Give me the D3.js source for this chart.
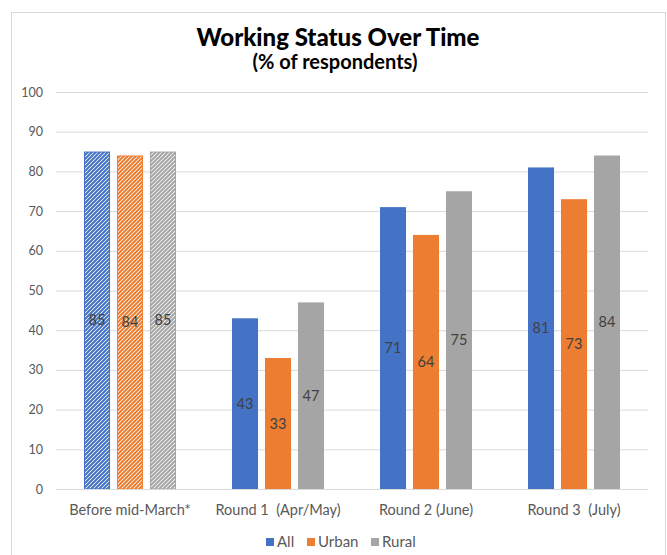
<!DOCTYPE html>
<html><head><meta charset="utf-8">
<script src="https://cdn.jsdelivr.net/npm/d3@7"></script>
<style>body{margin:0;background:#fff;font-family:Lato,"Open Sans",sans-serif;}</style>
</head><body>
<svg id="chart" width="667" height="555"></svg>
<script>
const categories = ["Before mid-March*", "Round 1  (Apr/May)", "Round 2 (June)", "Round 3  (July)"];
const seriesNames = ["All", "Urban", "Rural"];
const allValues = [85, 43, 71, 81];
const urbanValues = [84, 33, 64, 73];
const ruralValues = [85, 47, 75, 84];
const colors = ["#4472C4", "#ED7D31", "#A5A5A5"];
const hatchedCategories = ["Before mid-March*"];
const yTicks = [0,10,20,30,40,50,60,70,80,90,100];

const svg = d3.select("#chart");
const seriesValues = [allValues, urbanValues, ruralValues];

// hatch patterns
const defs = svg.append("defs");
colors.forEach((c,i)=>{
  const p = defs.append("pattern").attr("id","hatch"+i).attr("patternUnits","userSpaceOnUse")
    .attr("width",4).attr("height",4);
  p.append("rect").attr("width",4).attr("height",4).attr("fill","#fff");
  p.append("path").attr("d","M-1,1 l2,-2 M0,4 l4,-4 M3,5 l2,-2").attr("stroke",c).attr("stroke-width",2);
});

// border
svg.append("rect").attr("x",11.5).attr("y",12.5).attr("width",654).attr("height",560)
  .attr("fill","none").attr("stroke","#d9d9d9");

const x0 = d3.scaleBand().domain(categories).range([56,648]).paddingInner(0).paddingOuter(0);
const y = d3.scaleLinear().domain([0,100]).range([489,92]);
const x1 = d3.scaleBand().domain(seriesNames).range([28, 120]).paddingInner(0.21);

// title
svg.append("text").attr("x",338).attr("y",46).attr("text-anchor","middle")
  .style("font-size","24px").style("font-weight","900").attr("fill","#000").text("Working Status Over Time");
svg.append("text").attr("x",335).attr("y",69).attr("text-anchor","middle")
  .style("font-size","20px").style("font-weight","700").attr("fill","#000").text("(% of respondents)");

// grid & y axis
const yAxis = svg.append("g").attr("transform","translate(56,0)")
  .call(d3.axisLeft(y).tickValues(yTicks).tickSize(-592).tickPadding(13));
yAxis.select(".domain").remove();
yAxis.selectAll(".tick line").attr("stroke","#d9d9d9").attr("stroke-width",1);
yAxis.selectAll(".tick text").attr("fill","#595959").style("font-size","12.5px").style("font-family","Lato");

// bars
const groups = svg.append("g").selectAll("g").data(categories).join("g")
  .attr("transform",d=>`translate(${x0(d)},0)`);
groups.each(function(cat, ci){
  const g = d3.select(this);
  const hatched = hatchedCategories.includes(cat);
  seriesNames.forEach((s, si)=>{
    const v = seriesValues[si][ci];
    g.append("rect").attr("x",x1(s)+(hatched?0.5:0)).attr("y",y(v)+(hatched?0.5:0))
      .attr("width",x1.bandwidth()-(hatched?1:0)).attr("height",y(0)-y(v)-(hatched?0.5:0))
      .attr("fill",hatched?`url(#hatch${si})`:colors[si])
      .attr("stroke",hatched?colors[si]:"none").attr("stroke-width",1);
    g.append("text").attr("x",x1(s)+x1.bandwidth()/2).attr("y",(y(v)+y(0))/2)
      .attr("dy","0.35em").attr("text-anchor","middle").attr("fill","#404040")
      .style("font-size","14.5px").text(v);
  });
});

// x axis
const xAxis = svg.append("g").attr("transform","translate(0,489)")
  .call(d3.axisBottom(x0).tickSize(0).tickPadding(16));
xAxis.select(".domain").attr("stroke","#d9d9d9");
xAxis.selectAll(".tick text").attr("fill","#595959").style("font-size","14.5px").style("font-family","Lato")
  .style("white-space","pre");

// legend
const legendItems = [{n:"All",x:266},{n:"Urban",x:307},{n:"Rural",x:371}];
const lg = svg.append("g");
legendItems.forEach((it,i)=>{
  lg.append("rect").attr("x",it.x).attr("y",538).attr("width",8).attr("height",8).attr("fill",colors[i]);
  lg.append("text").attr("x",it.x+11).attr("y",542).attr("dy","0.35em").attr("fill","#595959")
    .style("font-size","15px").text(seriesNames[i]);
});
</script>
</body></html>
